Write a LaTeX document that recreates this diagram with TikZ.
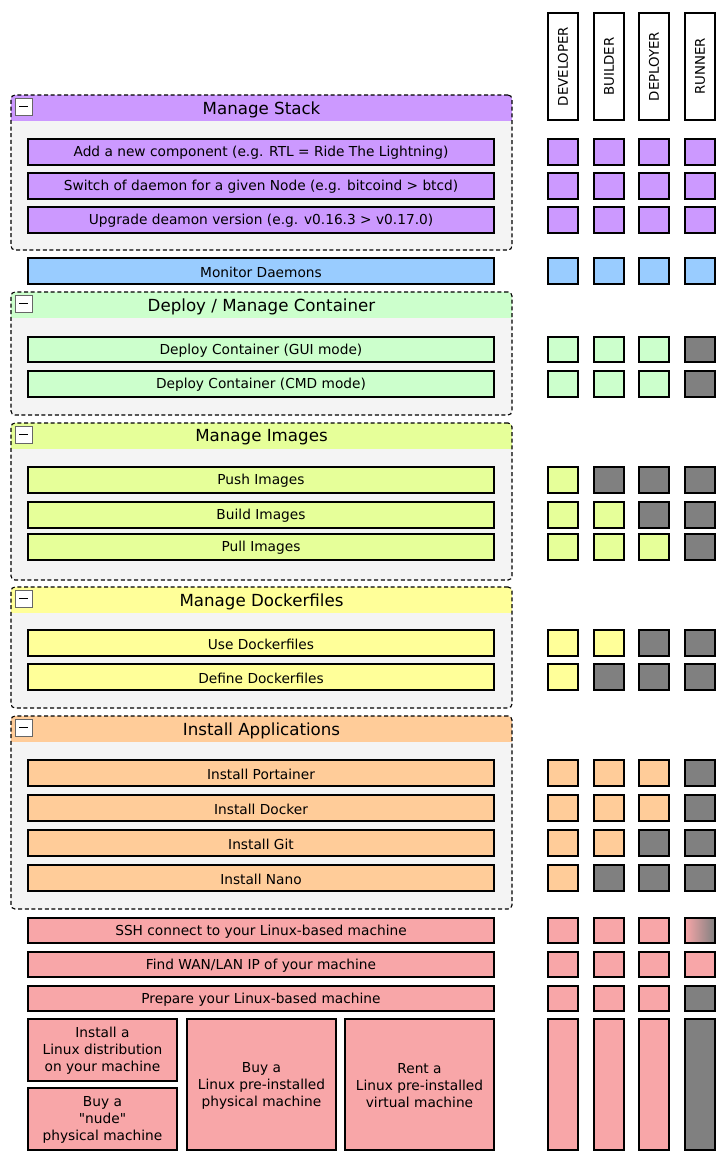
\documentclass[tikz,border=0pt]{standalone}
\usepackage{fontspec}
\setmainfont{DejaVu Sans}
\usetikzlibrary{fit}
\definecolor{cpurple}{HTML}{CC99FF}
\definecolor{cblue}{HTML}{99CCFF}
\definecolor{cgreen}{HTML}{CCFFCC}
\definecolor{clime}{HTML}{E6FF99}
\definecolor{cyellow}{HTML}{FFFF99}
\definecolor{corange}{HTML}{FFCC99}
\definecolor{cpink}{HTML}{F8A6A8}
\definecolor{cgray}{HTML}{808080}
\definecolor{cbody}{HTML}{F4F4F4}
\tikzset{
 box/.style={draw=black, line width=0.8pt, inner sep=0pt},
 boxtext/.style={align=center, inner sep=0pt, yshift=-0.8pt, font=\fontsize{10.3}{12.75}\selectfont},
 cellbox/.style={draw=black, line width=1pt, inner sep=0pt},
 grpborder/.style={draw=black, dash pattern=on 3pt off 2pt, line width=0.85pt, rounded corners=3pt},
 gtitle/.style={font=\fontsize{12.5}{14}\selectfont, inner sep=0pt, yshift=-1.2pt},
 colhead/.style={draw=black, fill=white, line width=0.9pt, inner sep=0pt},
 coltext/.style={rotate=90, font=\fontsize{10}{11}\selectfont, inner sep=0pt},
 minusbox/.style={draw=black!60, fill=white, line width=0.7pt, inner sep=0pt},
 fPU/.style={fill=cpurple}, fBL/.style={fill=cblue}, fGR/.style={fill=cgreen},
 fLI/.style={fill=clime}, fYE/.style={fill=cyellow}, fOR/.style={fill=corange},
 fPK/.style={fill=cpink}, fGY/.style={fill=cgray}, fGD/.style={left color=cpink, right color=cgray},
}
\newcommand\cellrow[7]{%
 \node[cellbox,#4,fit={(548,#2)(578,#3)}] (#1a) {};
 \node[cellbox,#5,fit={(594,#2)(624,#3)}] (#1b) {};
 \node[cellbox,#6,fit={(639,#2)(669,#3)}] (#1c) {};
 \node[cellbox,#7,fit={(685,#2)(715,#3)}] (#1d) {};
}
\newcommand\itemrow[5]{% name, y1, y2, fill, text
 \node[box,#4,fit={(28,#2)(494,#3)}] (#1) {};
 \node[boxtext] (#1t) at (#1.center) {#5};
}
\newcommand\grp[5]{% name, y1, y2, color, title
 \fill[cbody, rounded corners=3pt] (11,#2) rectangle (512,#3);
 \begin{scope}
 \clip[rounded corners=3pt] (11,#2) rectangle (512,#3);
 \fill[#4] (11,#2) rectangle (512,#2+26);
 \end{scope}
 \node[grpborder, inner sep=0pt, fit={(11,#2)(512,#3)}] (#1) {};
 \node[gtitle] (#1t) at (261.5,#2+13) {#5};
 \node[minusbox, fit={(15,#2+3)(32,#2+20)}] (#1m) {};
 \draw[line width=1.4pt] (19,#2+11.5) -- (28,#2+11.5);
}
\begin{document}
\begin{tikzpicture}[x=0.75pt,y=-0.75pt]
\useasboundingbox (0,0) rectangle (727,1165);
% column headers
\node[colhead, fit={(548,13)(578,120)}] (hdev) {};
\node[coltext] at (hdev.center) {DEVELOPER};
\node[colhead, fit={(594,13)(624,120)}] (hbld) {};
\node[coltext] at (hbld.center) {BUILDER};
\node[colhead, fit={(639,13)(669,120)}] (hdep) {};
\node[coltext] at (hdep.center) {DEPLOYER};
\node[colhead, fit={(685,13)(715,120)}] (hrun) {};
\node[coltext] at (hrun.center) {RUNNER};

% Manage Stack
\grp{g1}{95}{250}{cpurple}{Manage Stack}
\itemrow{s1}{139}{165}{fPU}{Add a new component (e.g. RTL = Ride The Lightning)}
\itemrow{s2}{173}{199}{fPU}{Switch of daemon for a given Node (e.g. bitcoind > btcd)}
\itemrow{s3}{207}{233}{fPU}{Upgrade deamon version (e.g. v0.16.3 > v0.17.0)}
\cellrow{cs1}{139}{165}{fPU}{fPU}{fPU}{fPU}
\cellrow{cs2}{173}{199}{fPU}{fPU}{fPU}{fPU}
\cellrow{cs3}{207}{233}{fPU}{fPU}{fPU}{fPU}

% Monitor
\itemrow{m1}{258}{284}{fBL}{Monitor Daemons}
\cellrow{cm1}{258}{284}{fBL}{fBL}{fBL}{fBL}

% Deploy
\grp{g2}{292}{415}{cgreen}{Deploy / Manage Container}
\itemrow{d1}{337}{362}{fGR}{Deploy Container (GUI mode)}
\itemrow{d2}{371}{397}{fGR}{Deploy Container (CMD mode)}
\cellrow{cd1}{337}{362}{fGR}{fGR}{fGR}{fGY}
\cellrow{cd2}{371}{397}{fGR}{fGR}{fGR}{fGY}

% Images
\grp{g3}{423}{580}{clime}{Manage Images}
\itemrow{i1}{467}{493}{fLI}{Push Images}
\itemrow{i2}{502}{528}{fLI}{Build Images}
\itemrow{i3}{534}{560}{fLI}{Pull Images}
\cellrow{ci1}{467}{493}{fLI}{fGY}{fGY}{fGY}
\cellrow{ci2}{502}{528}{fLI}{fLI}{fGY}{fGY}
\cellrow{ci3}{534}{560}{fLI}{fLI}{fLI}{fGY}

% Dockerfiles
\grp{g4}{587}{708}{cyellow}{Manage Dockerfiles}
\itemrow{f1}{630}{656}{fYE}{Use Dockerfiles}
\itemrow{f2}{664}{690}{fYE}{Define Dockerfiles}
\cellrow{cf1}{630}{656}{fYE}{fYE}{fGY}{fGY}
\cellrow{cf2}{664}{690}{fYE}{fGY}{fGY}{fGY}

% Install Applications
\grp{g5}{716}{909}{corange}{Install Applications}
\itemrow{a1}{760}{786}{fOR}{Install Portainer}
\itemrow{a2}{795}{821}{fOR}{Install Docker}
\itemrow{a3}{830}{856}{fOR}{Install Git}
\itemrow{a4}{865}{891}{fOR}{Install Nano}
\cellrow{ca1}{760}{786}{fOR}{fOR}{fOR}{fGY}
\cellrow{ca2}{795}{821}{fOR}{fOR}{fOR}{fGY}
\cellrow{ca3}{830}{856}{fOR}{fOR}{fGY}{fGY}
\cellrow{ca4}{865}{891}{fOR}{fGY}{fGY}{fGY}

% Machine rows
\itemrow{p1}{918}{943}{fPK}{SSH connect to your Linux-based machine}
\itemrow{p2}{952}{977}{fPK}{Find WAN/LAN IP of your machine}
\itemrow{p3}{986}{1011}{fPK}{Prepare your Linux-based machine}
\cellrow{cp1}{918}{943}{fPK}{fPK}{fPK}{fGD}
\cellrow{cp2}{952}{977}{fPK}{fPK}{fPK}{fPK}
\cellrow{cp3}{986}{1011}{fPK}{fPK}{fPK}{fGY}

\node[box,fPK,fit={(28,1019)(177,1081)}] (b1) {};
\node[boxtext] at (b1.center) {Install a\\Linux distribution\\on your machine};
\node[box,fPK,fit={(28,1088)(177,1150)}] (b2) {};
\node[boxtext] at (b2.center) {Buy a\\\textquotedbl nude\textquotedbl\\physical machine};
\node[box,fPK,fit={(187,1019)(336,1150)}] (b3) {};
\node[boxtext] at (b3.center) {Buy a\\Linux pre-installed\\physical machine};
\node[box,fPK,fit={(345,1019)(494,1150)}] (b4) {};
\node[boxtext] at (b4.center) {Rent a\\Linux pre-installed\\virtual machine};
\cellrow{cb}{1019}{1150}{fPK}{fPK}{fPK}{fGY}
\end{tikzpicture}
\end{document}
